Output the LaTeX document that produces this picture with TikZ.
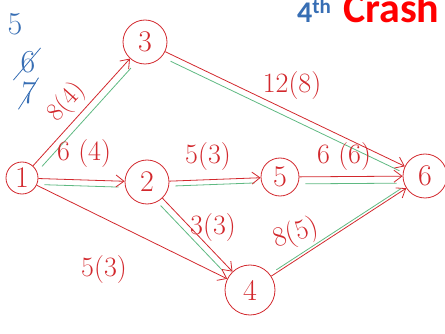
\documentclass[tikz,border=0pt]{standalone}
\usepackage{fontspec}
\usetikzlibrary{arrows.meta,positioning}
\newfontfamily\headfont{Carlito}
\definecolor{ink}{RGB}{210,40,45}
\definecolor{crit}{RGB}{95,185,130}
\definecolor{note}{RGB}{55,110,180}

\begin{document}
\begin{tikzpicture}[
    x=1pt, y=-1pt,
    event/.style={circle, draw=ink, thick, inner sep=0pt, text=ink, font=\fontsize{30}{30}\selectfont},
    arrow/.style={-{Straight Barb[length=8pt,width=12pt]}, thick, ink},
    critline/.style={thick, crit, shorten <=6pt, shorten >=6pt},
    lbl/.style={text=ink, inner sep=1pt, font=\fontsize{28}{28}\selectfont},
    tally/.style={text=note, inner sep=1pt, font=\fontsize{32}{32}\selectfont},
]
\useasboundingbox (0,0) rectangle (445,334);

% Title
\node[anchor=base west, inner sep=0pt, text=note, font=\headfont\bfseries\fontsize{30}{30}\selectfont] (head4) at (297,23) {4\textsuperscript{th}};
\node[anchor=base west, inner sep=0pt, text=red, font=\headfont\bfseries\fontsize{42}{42}\selectfont] (headcrash) at (343,23) {Crash};

% Duration tally
\node[tally] (t5) at (15,24) {5};
\node[tally] (t6) at (28,62) {6};
\node[tally] (t7) at (29,93) {7};
\draw[note, thick] ([shift={(-6,6)}]t6.south west) -- ([shift={(4,-2)}]t6.north east);
\draw[note, thick] ([shift={(-2,4)}]t7.south west) -- ([shift={(1,-3)}]t7.north east);

% Events
\node[event, minimum size=32pt] (n1) at (22,178) {1};
\node[event, minimum size=44pt] (n3) at (145,42) {3};
\node[event, minimum size=44pt] (n2) at (147,182) {2};
\node[event, minimum size=38pt] (n5) at (280,177) {5};
\node[event, minimum size=44pt] (n6) at (425,176) {6};
\node[event, minimum size=50pt] (n4) at (250,290) {4};

% Critical paths
\draw[critline, transform canvas={shift={(5,5)}}] (n1) -- (n3);
\draw[critline, transform canvas={shift={(0,7)}}] (n3) -- (n6);
\draw[critline, transform canvas={shift={(0,6)}}] (n1) -- (n2);
\draw[critline, transform canvas={shift={(0,5)}}] (n2) -- (n5);
\draw[critline, transform canvas={shift={(0,7)}}] (n5) -- (n6);
\draw[critline, transform canvas={shift={(-6,3)}}] (n2) -- (n4);
\draw[critline, transform canvas={shift={(0,-3)}}] (n4) -- (n6);

% Activities
\draw[arrow] (n1) -- (n3);
\draw[arrow] (n3) -- (n6);
\draw[arrow] (n1) -- (n2);
\draw[arrow] (n2) -- (n5);
\draw[arrow] (n5) -- (n6);
\draw[arrow] (n2) -- (n4);
\draw[arrow] (n1) -- (n4);
\draw[arrow] (n4) -- (n6);

% Durations (crashed)
\node[lbl, rotate=48, font=\fontsize{26}{26}\selectfont] (l13) at (67,102) {8(4)};
\node[lbl] (l36) at (292,86) {12(8)};
\node[lbl] (l12) at (84,154) {6 (4)};
\node[lbl] (l25) at (208,157) {5(3)};
\node[lbl] (l56) at (344,157) {6 (6)};
\node[lbl] (l24) at (213,228) {3(3)};
\node[lbl, rotate=18] (l46) at (296,234) {8(5)};
\node[lbl] (l14) at (104,270) {5(3)};

\end{tikzpicture}
\end{document}
